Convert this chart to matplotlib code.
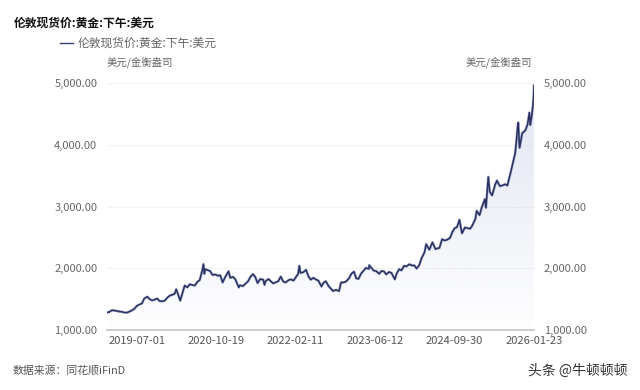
import matplotlib
matplotlib.use('Agg')
import matplotlib.pyplot as plt
import matplotlib.dates as mdates
from matplotlib.patches import Polygon
from matplotlib.lines import Line2D
import numpy as np
import pandas as pd

plt.rcParams['font.family'] = ['Noto Sans CJK SC', 'DejaVu Sans']

# 伦敦金下午定盘价 (读图估计, 半月一点)
dates = [
    '2019-01-02', '2019-01-15', '2019-02-01', '2019-02-15', '2019-03-01', '2019-03-15',
    '2019-04-01', '2019-04-15', '2019-05-01', '2019-05-15', '2019-06-03', '2019-06-17',
    '2019-07-01', '2019-07-15', '2019-08-01', '2019-08-15', '2019-09-03', '2019-09-16',
    '2019-10-01', '2019-10-15', '2019-11-01', '2019-11-15', '2019-12-02', '2019-12-16',
    '2020-01-02', '2020-01-15', '2020-02-03', '2020-02-14', '2020-02-24', '2020-03-02',
    '2020-03-19', '2020-04-01', '2020-04-15', '2020-05-01', '2020-05-15', '2020-06-01',
    '2020-06-15', '2020-07-01', '2020-07-15', '2020-07-31', '2020-08-06', '2020-08-12',
    '2020-08-17', '2020-09-01', '2020-09-15', '2020-10-01', '2020-10-15', '2020-11-02',
    '2020-11-16', '2020-11-30', '2020-12-15', '2021-01-05', '2021-01-15', '2021-02-01',
    '2021-02-15', '2021-03-01', '2021-03-08', '2021-03-15', '2021-04-01', '2021-04-15',
    '2021-05-03', '2021-05-17', '2021-06-01', '2021-06-15', '2021-06-29', '2021-07-15',
    '2021-08-02', '2021-08-10', '2021-08-16', '2021-09-03', '2021-09-15', '2021-10-01',
    '2021-10-15', '2021-11-01', '2021-11-16', '2021-12-01', '2021-12-15', '2022-01-04',
    '2022-01-17', '2022-02-01', '2022-02-15', '2022-03-01', '2022-03-08', '2022-03-15',
    '2022-04-01', '2022-04-18', '2022-05-02', '2022-05-16', '2022-06-01', '2022-06-15',
    '2022-07-01', '2022-07-20', '2022-08-01', '2022-08-15', '2022-09-01', '2022-09-15',
    '2022-09-28', '2022-10-14', '2022-11-03', '2022-11-15', '2022-12-01', '2022-12-15',
    '2023-01-03', '2023-01-16', '2023-02-01', '2023-02-15', '2023-03-01', '2023-03-15',
    '2023-04-03', '2023-04-14', '2023-05-02', '2023-05-04', '2023-05-15', '2023-06-01',
    '2023-06-15', '2023-07-03', '2023-07-17', '2023-08-01', '2023-08-15', '2023-09-01',
    '2023-09-15', '2023-10-06', '2023-10-16', '2023-11-01', '2023-11-15', '2023-12-01',
    '2023-12-15', '2024-01-02', '2024-01-16', '2024-02-01', '2024-02-14', '2024-03-01',
    '2024-03-15', '2024-04-02', '2024-04-12', '2024-05-01', '2024-05-20', '2024-06-07',
    '2024-06-17', '2024-07-01', '2024-07-17', '2024-08-01', '2024-08-15', '2024-09-03',
    '2024-09-16', '2024-10-01', '2024-10-15', '2024-10-30', '2024-11-14', '2024-12-02',
    '2024-12-16', '2025-01-02', '2025-01-15', '2025-02-03', '2025-02-11', '2025-02-28',
    '2025-03-14', '2025-04-01', '2025-04-08', '2025-04-22', '2025-05-01', '2025-05-15',
    '2025-06-02', '2025-06-13', '2025-07-01', '2025-07-15', '2025-08-01', '2025-08-15',
    '2025-09-02', '2025-09-16', '2025-10-01', '2025-10-08', '2025-10-16', '2025-10-20',
    '2025-10-28', '2025-11-13', '2025-12-01', '2025-12-15', '2025-12-26', '2025-12-31',
    '2026-01-08', '2026-01-15', '2026-01-20', '2026-01-23',
]
prices = [
    1285, 1290, 1320, 1315, 1310, 1300,
    1295, 1285, 1280, 1295, 1320, 1345,
    1390, 1410, 1430, 1510, 1540, 1500,
    1480, 1490, 1510, 1470, 1465, 1475,
    1525, 1555, 1575, 1585, 1660, 1610,
    1475, 1590, 1720, 1690, 1740, 1730,
    1720, 1780, 1810, 1975, 2067, 1910,
    1985, 1970, 1955, 1890, 1900, 1880,
    1885, 1770, 1855, 1950, 1845, 1860,
    1820, 1730, 1690, 1725, 1710, 1745,
    1790, 1860, 1905, 1860, 1760, 1825,
    1815, 1730, 1790, 1825, 1795, 1755,
    1770, 1790, 1865, 1785, 1770, 1810,
    1820, 1800, 1855, 1910, 2040, 1925,
    1935, 1975, 1870, 1815, 1845, 1820,
    1800, 1705, 1765, 1790, 1710, 1670,
    1630, 1650, 1630, 1770, 1770, 1785,
    1840, 1910, 1945, 1835, 1830, 1910,
    1970, 2005, 1990, 2050, 2015, 1960,
    1955, 1910, 1955, 1950, 1900, 1940,
    1925, 1820, 1910, 1985, 1965, 2040,
    2030, 2065, 2045, 2045, 1995, 2050,
    2160, 2260, 2390, 2300, 2420, 2310,
    2320, 2330, 2470, 2450, 2460, 2490,
    2580, 2650, 2665, 2785, 2565, 2660,
    2650, 2640, 2690, 2800, 2930, 2860,
    2990, 3120, 2980, 3480, 3240, 3180,
    3350, 3420, 3330, 3340, 3360, 3340,
    3530, 3690, 3860, 4040, 4290, 4360,
    3950, 4190, 4230, 4330, 4520, 4320,
    4450, 4600, 4750, 4960,
]
tick_dates = ['2019-07-01', '2020-10-19', '2022-02-11', '2023-06-12', '2024-09-30', '2026-01-23']
y_ticks = [1000, 2000, 3000, 4000, 5000]

x = pd.to_datetime(dates)
xn = mdates.date2num(x)
y = np.array(prices, dtype=float)

fig = plt.figure(figsize=(6.4, 3.9), dpi=100)
ax = fig.add_axes([107/640, 1 - 330/390, 427/640, 247/390])

ax.set_xlim(xn[0], xn[-1])
ax.set_ylim(1000, 5000)

# 渐变填充
grad = np.zeros((256, 1, 4))
grad[:, 0, 0] = 196/255
grad[:, 0, 1] = 203/255
grad[:, 0, 2] = 228/255
grad[:, 0, 3] = np.linspace(0.5, 0.02, 256)
img = ax.imshow(grad, extent=[xn[0], xn[-1], 1000, 5000], aspect='auto',
                origin='upper', zorder=1)
verts = list(zip(xn, y)) + [(xn[-1], 1000), (xn[0], 1000)]
poly = Polygon(verts, closed=True, facecolor='none', edgecolor='none')
ax.add_patch(poly)
img.set_clip_path(poly)

ax.plot(xn, y, color='#4a5a9a', lw=1.9, alpha=0.45, zorder=3)
ax.plot(xn, y, color='#2a3160', lw=1.1, zorder=4)

for v in y_ticks[1:]:
    ax.axhline(v, color='#f3f3f5', lw=0.8, zorder=0)

for s in ['top', 'left', 'right']:
    ax.spines[s].set_visible(False)
ax.spines['bottom'].set_color('#c9c9c9')
ax.spines['bottom'].set_linewidth(1.3)
ax.spines['bottom'].set_zorder(5)

ax.set_xticks(mdates.date2num(pd.to_datetime(tick_dates)))
ax.set_xticklabels(tick_dates)
ax.set_yticks(y_ticks)
ax.set_yticklabels([f'{v:,.2f}' for v in y_ticks])
ax.tick_params(axis='x', length=0, pad=4, labelsize=8, labelcolor='#555555')
ax.tick_params(axis='y', length=0, pad=7, labelsize=8, labelcolor='#666666',
               labelleft=True, labelright=True)

fig.text(14/640, 1 - 23/390, '伦敦现货价:黄金:下午:美元', fontsize=8.5,
         fontweight='bold', color='#111111', va='center')
fig.add_artist(Line2D([60/640, 73/640], [1 - 43/390, 1 - 43/390],
                      color='#3a4070', lw=1.0))
fig.text(78/640, 1 - 43/390, '伦敦现货价:黄金:下午:美元', fontsize=8.5,
         color='#666666', va='center')
fig.text(107/640, 1 - 62/390, '美元/金衡盎司', fontsize=7.5, color='#666666',
         va='center', ha='left')
fig.text(532/640, 1 - 62/390, '美元/金衡盎司', fontsize=7.5, color='#666666',
         va='center', ha='right')
fig.text(13/640, 1 - 370/390, '数据来源：同花顺iFinD', fontsize=7.8, color='#555555',
         va='center')
fig.text(628/640, 1 - 371/390, '头条 @牛顿顿顿', fontsize=10, color='#333333',
         va='center', ha='right')

fig.savefig('out.png', dpi=100, facecolor='white')
